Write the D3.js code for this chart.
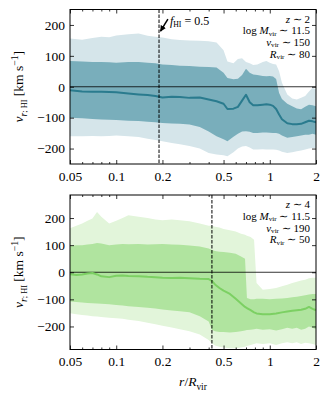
<!DOCTYPE html>
<html><head><meta charset="utf-8">
<script src="https://cdn.jsdelivr.net/npm/d3@7"></script>
<style>body{margin:0;background:#fff}svg{display:block}svg text{font-family:"Liberation Serif","Times New Roman",serif !important;fill:#000}</style>
</head><body>
<svg id="c" width="330" height="399"></svg>
<script>
// ---- data: top panel (z ~ 2) ----
const rTop = [0.05,0.06,0.07,0.08,0.09,0.1,0.12,0.14,0.16,0.18,0.2,0.23,0.26,0.3,0.35,0.4,0.45,0.5,0.53,0.58,0.62,0.66,0.7,0.74,0.78,0.83,0.9,0.95,1.0,1.05,1.1,1.15,1.2,1.3,1.4,1.5,1.6,1.7,1.8,1.9,2.0];
const topLightHi = [156,152,158,162,160,166,170,172,165,162,159,154,151,150,149,147,143,118,82,76,90,92,80,76,70,72,80,83,78,74,72,50,13,-25,-38,-41,-36,-30,-15,-3,-9];
const topDarkHi  = [83,82,80,80,79,78,80,80,78,76,72,70,68,67,65,64,62,45,28,24,26,38,58,45,40,38,35,34,35,33,25,-20,-40,-55,-63,-70,-73,-65,-58,-60,-63];
const topMedian  = [-11,-15,-16,-16,-17,-18,-22,-25,-27,-30,-35,-32,-33,-36,-35,-41,-47,-55,-72,-71,-65,-45,-26,-50,-60,-60,-58,-57,-58,-62,-72,-90,-105,-118,-121,-121,-120,-115,-110,-112,-115];
const topDarkLo  = [-100,-102,-104,-106,-107,-108,-110,-111,-113,-115,-117,-119,-120,-122,-130,-145,-160,-170,-176,-162,-152,-145,-144,-146,-150,-150,-148,-148,-149,-150,-150,-152,-158,-165,-163,-160,-158,-155,-155,-152,-155];
const topLightLo = [-160,-160,-159,-160,-159,-158,-160,-163,-168,-172,-176,-182,-186,-192,-200,-214,-219,-222,-225,-212,-200,-193,-192,-197,-203,-203,-202,-203,-203,-203,-204,-206,-210,-214,-212,-209,-206,-203,-200,-198,-198];
const topFHI = 0.19;

// ---- data: bottom panel (z ~ 4) ----
const rBot = [0.05,0.055,0.06,0.065,0.07,0.075,0.08,0.09,0.1,0.11,0.12,0.14,0.16,0.18,0.2,0.23,0.26,0.3,0.35,0.4,0.42,0.44,0.47,0.5,0.55,0.6,0.65,0.69,0.71,0.75,0.79,0.82,0.9,1.0,1.1,1.2,1.3,1.4,1.5,1.6,1.7,1.8,1.9,2.0];
const botLightHi = [162,172,180,190,198,222,205,180,190,200,210,205,200,195,192,195,192,188,180,172,172,168,165,160,155,150,142,138,135,130,120,-40,-65,-62,-58,-52,-46,-40,-35,-30,-28,-22,-20,-20];
const botDarkHi  = [98,100,100,102,104,108,106,100,102,104,103,104,102,103,104,102,101,99,95,88,82,78,76,75,72,68,58,50,-95,-100,-100,-98,-98,-100,-98,-97,-95,-92,-90,-88,-85,-82,-80,-80];
const botMedian  = [-7,-10,-8,-5,-3,-8,-15,-18,-13,-12,-14,-15,-17,-18,-20,-21,-20,-22,-24,-25,-32,-45,-58,-68,-80,-98,-115,-128,-132,-140,-148,-152,-155,-155,-152,-148,-145,-142,-140,-138,-135,-128,-135,-140];
const botDarkLo  = [-108,-110,-112,-113,-114,-115,-116,-118,-121,-123,-125,-128,-131,-134,-137,-141,-144,-148,-162,-182,-212,-218,-220,-220,-222,-220,-218,-215,-213,-212,-210,-208,-212,-210,-215,-210,-205,-208,-205,-212,-208,-200,-205,-210];
const botLightLo = [-151,-155,-158,-160,-162,-163,-165,-168,-170,-172,-175,-180,-186,-192,-197,-204,-210,-218,-230,-250,-262,-270,-275,-278,-280,-280,-278,-275,-272,-268,-265,-262,-265,-262,-268,-262,-258,-262,-258,-265,-260,-262,-265,-268];
const botFHI = 0.42;

// ---- ticks ----
const xTickVals = [0.05,0.1,0.2,0.5,1,2];
const xTickLabels = ["0.05","0.1","0.2","0.5","1","2"];
const xMinorVals = [0.06,0.07,0.08,0.09,0.3,0.4,0.6,0.7,0.8,0.9];
const yTickVals = [-200,-100,0,100,200];
const yTickLabels = ["\u2212200","\u2212100","0","100","200"];

const FONT = "'Liberation Serif', 'Times New Roman', serif";
const svg = d3.select("#c");
const X0 = 70, X1 = 316;
const x = d3.scaleLog().domain([0.05,2]).range([X0,X1]);

function mathText(g, parts, fs, subShift) {
  let cur = 0;
  const sub = subShift == null ? 0.28 : subShift;
  g.attr("font-family", FONT);
  parts.forEach(p => {
    const [t, it, sh, sc] = p;
    const target = sh === 'sub' ? fs*sub : sh === 'sup' ? -fs*0.38 : 0;
    const ts = g.append("tspan").text(t)
      .attr("font-style", it ? "italic" : "normal")
      .attr("font-size", (sc || 1) * fs);
    if (target !== cur) { ts.attr("dy", target - cur); cur = target; }
  });
}

function panel(cfg) {
  const y = d3.scaleLinear().domain(cfg.ydom).range([cfg.y1, cfg.y0]);
  const g = svg.append("g");
  const cid = "clip" + cfg.id;
  svg.append("clipPath").attr("id", cid).append("rect")
    .attr("x", X0).attr("y", cfg.y0).attr("width", X1 - X0).attr("height", cfg.y1 - cfg.y0);
  const pg = g.append("g").attr("clip-path", `url(#${cid})`);
  const idx = d3.range(cfg.r.length);
  const area = (lo, hi) => d3.area().x(i => x(cfg.r[i])).y0(i => y(lo[i])).y1(i => y(hi[i]));
  pg.append("path").datum(idx).attr("d", area(cfg.lightLo, cfg.lightHi)).attr("fill", cfg.light);
  pg.append("path").datum(idx).attr("d", area(cfg.darkLo, cfg.darkHi)).attr("fill", cfg.dark);
  pg.append("line").attr("x1", X0).attr("x2", X1).attr("y1", y(0)).attr("y2", y(0))
    .attr("stroke", "#000").attr("stroke-width", 0.8);
  pg.append("path").datum(idx)
    .attr("d", d3.line().x(i => x(cfg.r[i])).y(i => y(cfg.median[i])))
    .attr("fill", "none").attr("stroke", cfg.line).attr("stroke-width", 2).attr("stroke-linejoin", "round");
  pg.append("line").attr("x1", x(cfg.fhi)).attr("x2", x(cfg.fhi)).attr("y1", cfg.y0).attr("y2", cfg.y1)
    .attr("stroke", "#000").attr("stroke-width", 1).attr("stroke-dasharray", "3.5,1.5");

  const fmtX = (d) => xTickLabels[xTickVals.indexOf(d)];
  const fmtY = (d) => yTickLabels[yTickVals.indexOf(d)];
  const ax = (gen, tr) => g.append("g").attr("transform", tr).call(gen)
    .attr("font-family", FONT)
    .call(s => s.select(".domain").remove())
    .call(s => s.selectAll("line").attr("stroke", "#000").attr("stroke-width", 0.8));
  const bot = ax(d3.axisBottom(x).tickValues(xTickVals).tickFormat(fmtX).tickSizeInner(-4).tickSizeOuter(0), `translate(0,${cfg.y1})`);
  bot.selectAll("text").attr("y", 7).attr("dy", "0.71em").attr("font-size", 13.5);
  ax(d3.axisBottom(x).tickValues(xMinorVals).tickFormat("").tickSizeInner(-2).tickSizeOuter(0), `translate(0,${cfg.y1})`);
  ax(d3.axisTop(x).tickValues(xTickVals).tickFormat("").tickSizeInner(-4).tickSizeOuter(0), `translate(0,${cfg.y0})`);
  ax(d3.axisTop(x).tickValues(xMinorVals).tickFormat("").tickSizeInner(-2).tickSizeOuter(0), `translate(0,${cfg.y0})`);
  const left = ax(d3.axisLeft(y).tickValues(yTickVals).tickFormat(fmtY).tickSizeInner(-4).tickSizeOuter(0), `translate(${X0},0)`);
  left.selectAll("text").attr("x", -5).attr("font-size", 13.5);
  ax(d3.axisRight(y).tickValues(yTickVals).tickFormat("").tickSizeInner(-4).tickSizeOuter(0), `translate(${X1},0)`);
  g.append("rect").attr("x", X0).attr("y", cfg.y0).attr("width", X1 - X0).attr("height", cfg.y1 - cfg.y0)
    .attr("fill", "none").attr("stroke", "#000").attr("stroke-width", 1);

  const yl = g.append("text").attr("text-anchor", "middle")
    .attr("transform", `translate(23,${(cfg.y0 + cfg.y1) / 2}) rotate(-90)`).attr("font-size", 13.5);
  mathText(yl, [["v", true, null], ["r", true, "sub", 0.72], ["; HI", false, "sub", 0.62], [" [km s", false, null], ["\u22121", false, "sup", 0.72], ["]", false, null]], 13.5);

  const fs = 11;
  cfg.info.forEach((parts, k) => {
    const t = g.append("text").attr("text-anchor", "end").attr("x", 310).attr("y", cfg.y0 + 13 + k * 11.8).attr("font-size", fs);
    mathText(t, parts, fs, 0.12);
  });
  return { g, y };
}

const vir = (sym, val) => [[sym, true, null], ["vir", false, "sub", 0.65], [" \u223C " + val, false, null]];

const topPanel = panel({
  id: "t", y0: 9.5, y1: 164, ydom: [-250, 250], r: rTop,
  lightHi: topLightHi, darkHi: topDarkHi, median: topMedian, darkLo: topDarkLo, lightLo: topLightLo, fhi: topFHI,
  light: "#d5e5ea", dark: "#79aebb", line: "#2a7b8e",
  info: [[["z", true, null], [" \u223C 2", false, null]],
         [["log ", false, null]].concat(vir("M", "11.5")),
         vir("v", "150"), vir("R", "80")]
});
const bottomPanel = panel({
  id: "b", y0: 195, y1: 349.5, ydom: [-285, 285], r: rBot,
  lightHi: botLightHi, darkHi: botDarkHi, median: botMedian, darkLo: botDarkLo, lightLo: botLightLo, fhi: botFHI,
  light: "#e2f5da", dark: "#b0e49f", line: "#7cd063",
  info: [[["z", true, null], [" \u223C 4", false, null]],
         [["log ", false, null]].concat(vir("M", "11.5")),
         vir("v", "190"), vir("R", "50")]
});

// arrow + f_HI label
const ay = topPanel.y;
const tail = [x(0.217), ay(219)], head = [x(topFHI) + 1.5, ay(180)];
svg.append("defs").append("marker").attr("id", "ah").attr("viewBox", "0 0 10 10").attr("refX", 9).attr("refY", 5)
  .attr("markerWidth", 4).attr("markerHeight", 4).attr("orient", "auto")
  .append("path").attr("d", "M0,0L10,5L0,10z").attr("fill", "#000");
svg.append("line").attr("x1", tail[0]).attr("y1", tail[1]).attr("x2", head[0]).attr("y2", head[1])
  .attr("stroke", "#000").attr("stroke-width", 1.5).attr("marker-end", "url(#ah)");
const ft = svg.append("text").attr("x", tail[0] + 2).attr("y", ay(200)).attr("font-size", 12);
mathText(ft, [["f", true, null], ["HI", false, "sub", 0.65], [" = 0.5", false, null]], 12, 0.2);

const xl = svg.append("text").attr("text-anchor", "middle").attr("x", (X0 + X1) / 2).attr("y", 386).attr("font-size", 13.5);
mathText(xl, [["r", true, null], ["/", false, null], ["R", true, null], ["vir", false, "sub", 0.7]], 13.5);
</script>
</body></html>
